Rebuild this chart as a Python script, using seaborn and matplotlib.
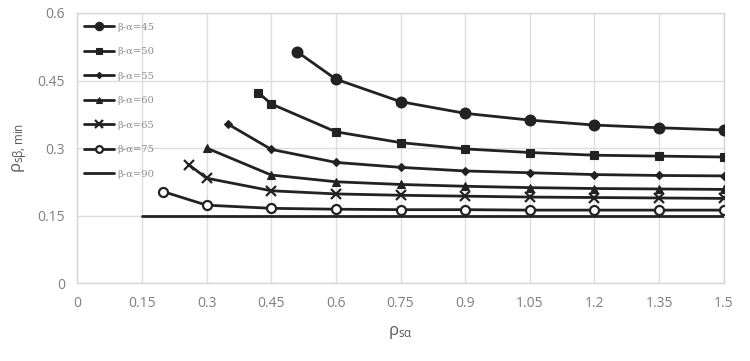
import seaborn as sns
import pandas as pd
import matplotlib.pyplot as plt

# rho_s_alpha values per curve and the matching rho_s_beta,min values
x45 = [0.51, 0.6, 0.75, 0.9, 1.05, 1.2, 1.35, 1.5]
y45 = [0.514, 0.453, 0.403, 0.377, 0.362, 0.351, 0.345, 0.340]
x50 = [0.42, 0.45, 0.6, 0.75, 0.9, 1.05, 1.2, 1.35, 1.5]
y50 = [0.423, 0.398, 0.336, 0.312, 0.298, 0.290, 0.284, 0.282, 0.280]
x55 = [0.35, 0.45, 0.6, 0.75, 0.9, 1.05, 1.2, 1.35, 1.5]
y55 = [0.353, 0.297, 0.268, 0.257, 0.249, 0.245, 0.241, 0.239, 0.238]
x60 = [0.3, 0.45, 0.6, 0.75, 0.9, 1.05, 1.2, 1.35, 1.5]
y60 = [0.300, 0.240, 0.225, 0.219, 0.215, 0.212, 0.210, 0.209, 0.208]
x65 = [0.26, 0.3, 0.45, 0.6, 0.75, 0.9, 1.05, 1.2, 1.35, 1.5]
y65 = [0.262, 0.233, 0.205, 0.198, 0.195, 0.193, 0.191, 0.190, 0.189, 0.188]
x75 = [0.2, 0.3, 0.45, 0.6, 0.75, 0.9, 1.05, 1.2, 1.35, 1.5]
y75 = [0.203, 0.173, 0.166, 0.164, 0.163, 0.163, 0.162, 0.162, 0.162, 0.162]
x90 = [0.15, 0.3, 0.45, 0.6, 0.75, 0.9, 1.05, 1.2, 1.35, 1.5]
y90 = [0.15, 0.15, 0.15, 0.15, 0.15, 0.15, 0.15, 0.15, 0.15, 0.15]

labels = ['β-α=45', 'β-α=50', 'β-α=55', 'β-α=60', 'β-α=65', 'β-α=75', 'β-α=90']
xticks = [0, 0.15, 0.3, 0.45, 0.6, 0.75, 0.9, 1.05, 1.2, 1.35, 1.5]
xticklabels = ['0', '0.15', '0.3', '0.45', '0.6', '0.75', '0.9', '1.05', '1.2', '1.35', '1.5']
yticks = [0, 0.15, 0.3, 0.45, 0.6]
yticklabels = ['0', '0.15', '0.3', '0.45', '0.6']

series = [(x45, y45), (x50, y50), (x55, y55), (x60, y60), (x65, y65), (x75, y75), (x90, y90)]
markers = ['o', 's', 'D', '^', 'x', 'o', None]
msizes = [7, 6.3, 4.2, 6, 7.5, 6.5, 0]

sns.set_style('white')
plt.rcParams['font.family'] = ['Open Sans', 'DejaVu Sans']

fig = plt.figure(figsize=(7.5, 3.61), dpi=100)
ax = fig.add_axes([0.103, 0.216, 0.862, 0.748])

dark = '#222222'
for (xs, ys), lab, m, ms in zip(series, labels, markers, msizes):
    df = pd.DataFrame({'x': xs, 'y': ys})
    face = 'white' if lab == 'β-α=75' else dark
    kw = dict(marker=m, markersize=ms, markerfacecolor=face,
              markeredgecolor=dark, markeredgewidth=1.6 if m in ('x', 'o') else 0.8)
    if m is None:
        kw = {}
    sns.lineplot(data=df, x='x', y='y', ax=ax, color=dark, linewidth=2.0,
                 label=lab, zorder=3, **kw)

ax.set_xlim(0, 1.5)
ax.set_ylim(0, 0.6)
ax.set_xticks(xticks)
ax.set_xticklabels(xticklabels)
ax.set_yticks(yticks)
ax.set_yticklabels(yticklabels)
ax.grid(True, color='#dddddd', linewidth=1.0)
ax.set_axisbelow(True)
for s in ax.spines.values():
    s.set_color('#d6d6d6')
    s.set_linewidth(1.0)
ax.tick_params(axis='both', length=0, labelsize=10, labelcolor='#7f7f7f', pad=9)

ax.set_xlabel(r'$\mathregular{\rho_{s\alpha}}$', fontsize=12, color='#595959', labelpad=10)
ax.set_ylabel(r'$\mathregular{\rho_{s\beta,min}}$', fontsize=12, color='#595959', labelpad=6)

leg = ax.legend(loc='upper left', bbox_to_anchor=(0.0, 0.99), frameon=False,
                prop={'family': 'DejaVu Serif', 'size': 7.2}, labelcolor='#8c8c8c',
                handlelength=3.0, handletextpad=0.3, labelspacing=1.55,
                borderaxespad=0.3, markerscale=0.75)

plt.savefig('out.png', dpi=100)
